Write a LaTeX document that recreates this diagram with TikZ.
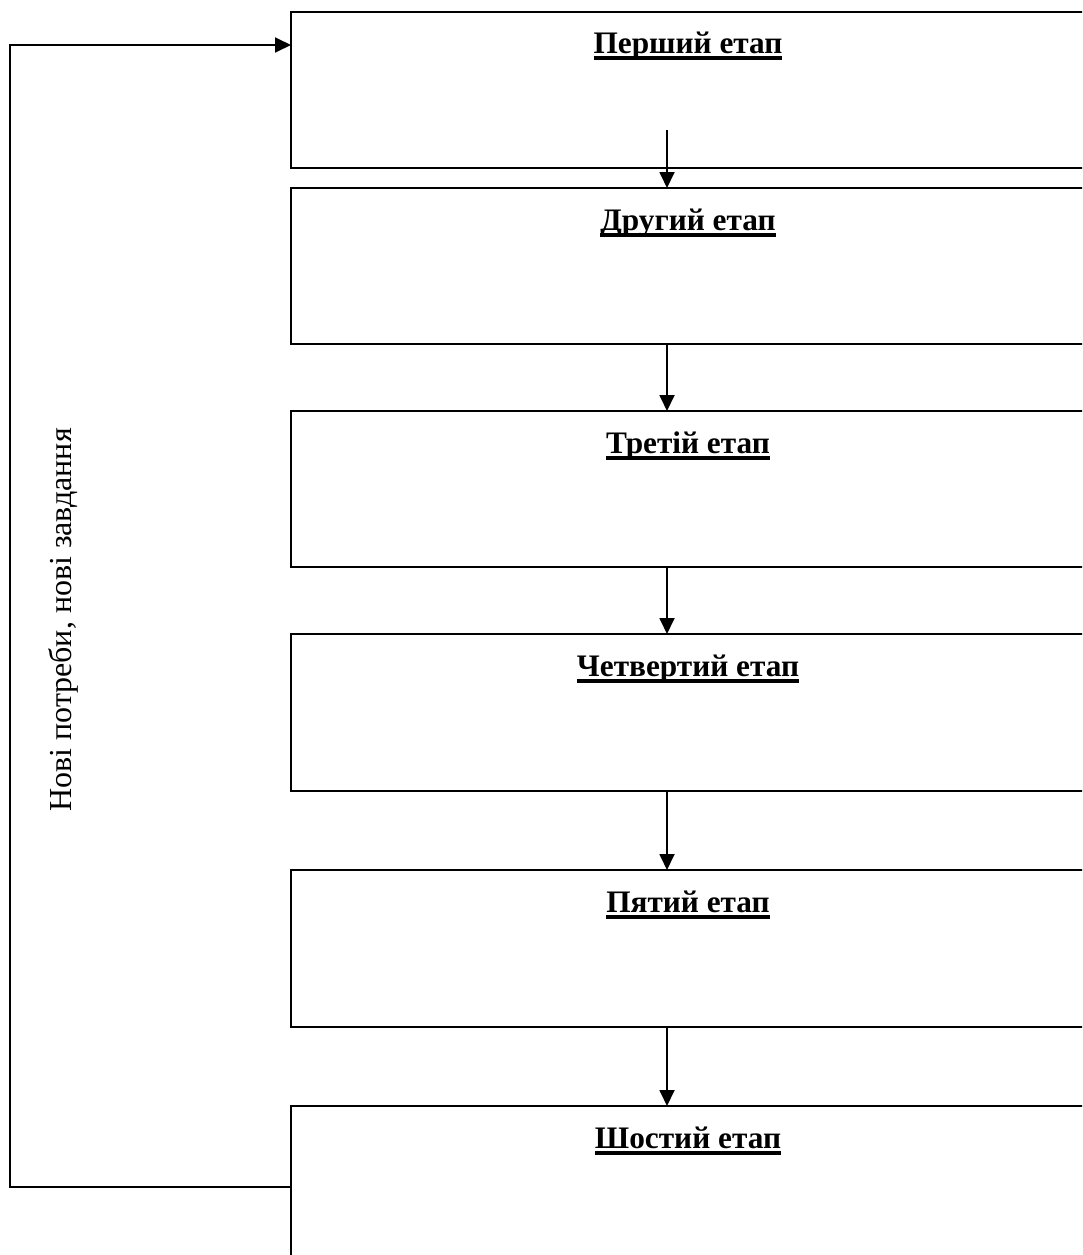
\documentclass[tikz,border=0pt]{standalone}
\usepackage{fontspec}
\setmainfont{Liberation Serif}
\usetikzlibrary{arrows.meta,calc}
\newcommand\myul[1]{{\setbox0\hbox{#1}\rlap{\rule[-6.5pt]{\wd0}{4pt}}\box0}}
\begin{document}
\begin{tikzpicture}[x=1pt,y=-1pt,
  stagebox/.style={draw,line width=1.8pt,minimum width=900pt,inner sep=0pt,outer sep=0pt,anchor=north west},
  title/.style={font=\fontsize{31.3}{38}\selectfont\bfseries,anchor=base,inner sep=0pt},
  arr/.style={line width=1.8pt,-{Triangle[length=16pt,width=15pt]}}]
\useasboundingbox (0,0) rectangle (1082,1255);
\clip (0,0) rectangle (1082,1255);
\fill[white] (0,0) rectangle (1082,1255);
\node[stagebox,minimum height=156pt] (s1) at (291,12) {};
\node[stagebox,minimum height=156pt] (s2) at (291,188) {};
\node[stagebox,minimum height=156pt] (s3) at (291,411) {};
\node[stagebox,minimum height=157pt] (s4) at (291,634) {};
\node[stagebox,minimum height=157pt] (s5) at (291,870) {};
\node[stagebox,minimum height=250pt] (s6) at (291,1106) {};
\node[title] (t1) at ($(s1.north west)+(397,42)$) {\myul{Перший етап}};
\node[title] (t2) at ($(s2.north west)+(397,42)$) {\myul{Другий етап}};
\node[title] (t3) at ($(s3.north west)+(397,42)$) {\myul{Третій етап}};
\node[title] (t4) at ($(s4.north west)+(397,42)$) {\myul{Четвертий етап}};
\node[title] (t5) at ($(s5.north west)+(397,42)$) {\myul{Пятий етап}};
\node[title] (t6) at ($(s6.north west)+(397,42)$) {\myul{Шостий етап}};
\coordinate (c1) at (667,130);
\draw[arr] (c1) -- (c1 |- s2.north);
\draw[arr] (c1 |- s2.south) -- (c1 |- s3.north);
\draw[arr] (c1 |- s3.south) -- (c1 |- s4.north);
\draw[arr] (c1 |- s4.south) -- (c1 |- s5.north);
\draw[arr] (c1 |- s5.south) -- (c1 |- s6.north);
\coordinate (fb) at (10,1187);
\coordinate (fbin) at ($(s1.north west)+(0,33)$);
\draw[arr] (s6.west |- fb) -- (fb) |- (fbin);
\node[rotate=90,font=\fontsize{32}{38}\selectfont,anchor=base,inner sep=0pt] (lbl) at (71,620) {Нові потреби, нові завдання};
\end{tikzpicture}
\end{document}
